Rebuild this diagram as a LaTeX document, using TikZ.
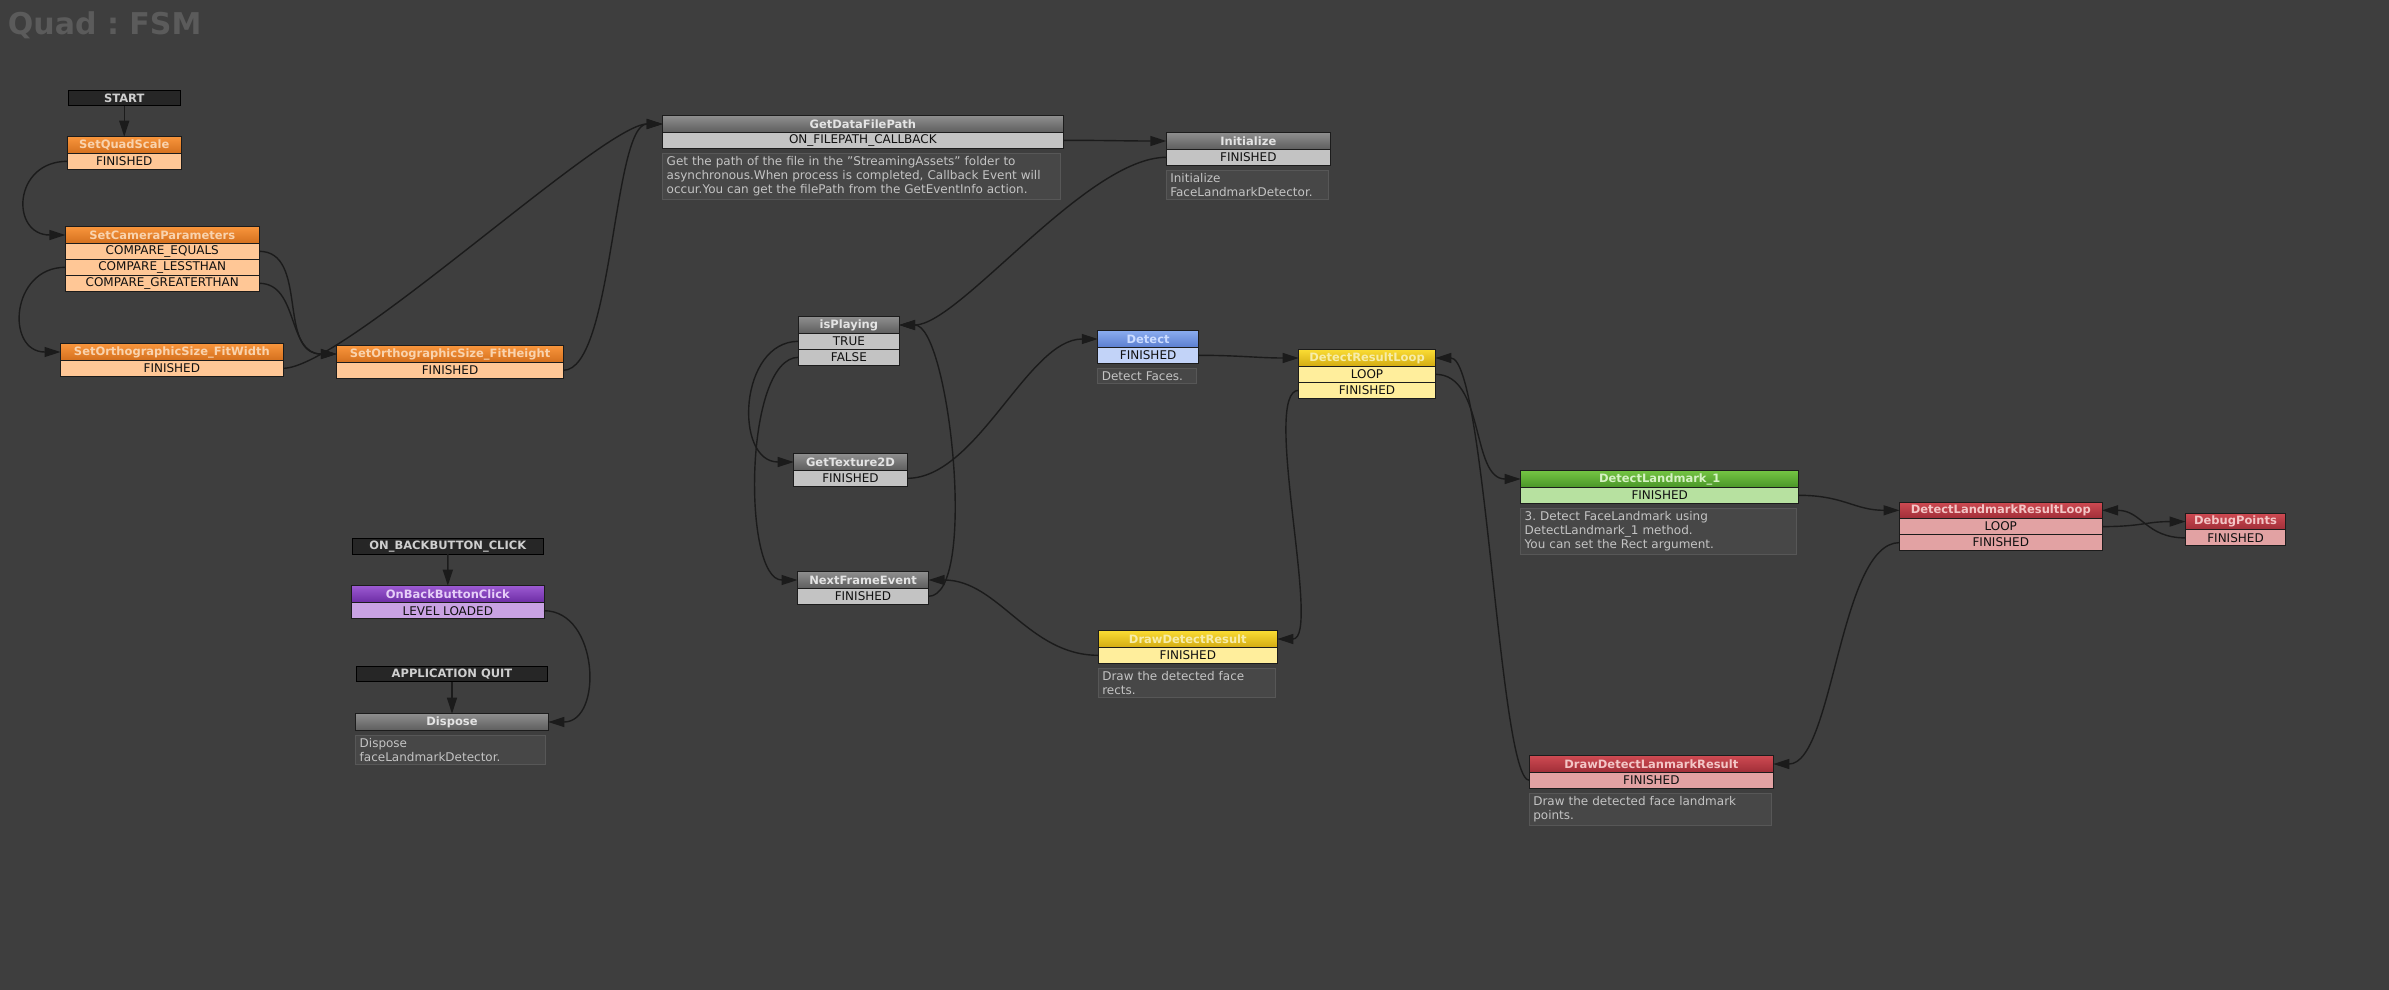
\documentclass[tikz,border=0pt]{standalone}
\usepackage{fontspec}
\setmainfont{DejaVu Sans}
\usetikzlibrary{positioning,arrows.meta}
\frenchspacing

\definecolor{canvas}{HTML}{3E3E3E}
\definecolor{titlegray}{HTML}{5B5B5B}
\definecolor{rim}{HTML}{1C1C1C}
\definecolor{wirecol}{HTML}{1B1B1B}
\definecolor{rowtext}{HTML}{111111}
\definecolor{evtfill}{HTML}{262626}
\definecolor{evttext}{HTML}{CFCFCF}
\definecolor{notefill}{HTML}{474747}
\definecolor{noteedge}{HTML}{575757}
\definecolor{notetext}{HTML}{C4C4C4}
\definecolor{orangetop}{HTML}{F8953C}\definecolor{orangebot}{HTML}{D4701E}
\definecolor{orangetxt}{HTML}{F9D3AE}\definecolor{orangerow}{HTML}{FFC796}
\definecolor{graytop}{HTML}{8E8E8E}\definecolor{graybot}{HTML}{5E5E5E}
\definecolor{graytxt}{HTML}{E4E4E4}\definecolor{grayrow}{HTML}{C3C3C3}
\definecolor{bluetop}{HTML}{8AACF0}\definecolor{bluebot}{HTML}{5B7ECF}
\definecolor{bluetxt}{HTML}{CCDCFF}\definecolor{bluerow}{HTML}{C2D3F8}
\definecolor{yellowtop}{HTML}{FADC34}\definecolor{yellowbot}{HTML}{D3AB12}
\definecolor{yellowtxt}{HTML}{F7EDAA}\definecolor{yellowrow}{HTML}{FFEE9C}
\definecolor{greentop}{HTML}{74C443}\definecolor{greenbot}{HTML}{4A9628}
\definecolor{greentxt}{HTML}{D6F2C4}\definecolor{greenrow}{HTML}{B7E1A0}
\definecolor{redtop}{HTML}{CE4A52}\definecolor{redbot}{HTML}{A02E38}
\definecolor{redtxt}{HTML}{F3C6C6}\definecolor{redrow}{HTML}{E2A2A3}
\definecolor{purpletop}{HTML}{9C5AD2}\definecolor{purplebot}{HTML}{6C2CA4}
\definecolor{purpletxt}{HTML}{E6CEF8}\definecolor{purplerow}{HTML}{C9A2E3}

\begin{document}
\begin{tikzpicture}[x=1pt, y=-1pt, >={Triangle[length=16pt,width=10pt]},
  title bar/.style={draw=rim, line width=1pt, anchor=north west, minimum height=16.6pt,
    top color=#1top, bottom color=#1bot, text=#1txt, font=\bfseries\fontsize{11.5}{13}\selectfont},
  event row/.style={draw=rim, line width=1pt, minimum height=16pt, fill=#1row, text=rowtext,
    font=\fontsize{12}{13}\selectfont},
  global event/.style={draw=black, line width=1pt, anchor=north west, minimum height=15.4pt,
    fill=evtfill, text=evttext, font=\bfseries\fontsize{11.5}{13}\selectfont},
  comment box/.style={draw=noteedge, line width=1pt, fill=notefill, text=notetext, align=left,
    inner xsep=4pt, inner ysep=3pt, font=\fontsize{12}{14.2}\selectfont},
  link/.style 2 args={to path={.. controls +(#1,0) and +(#2,0) .. (\tikztotarget)}}]
  \tikzstyle{every node}=[inner sep=0pt, outer sep=0pt]

  \useasboundingbox (0,0) rectangle (2389,989);
  \fill[canvas] (-5,-5) rectangle (2394,994);
  \node[anchor=north west, text=titlegray, font=\bfseries\fontsize{30}{32}\selectfont] (title) at (8,12) {Quad : FSM};

  % start chain
  \node[global event, minimum width=112.5pt] (start) at (68,90.3) {START};
  \node[title bar=orange, minimum width=113.5pt] (quad) at (67.5,136.7) {SetQuadScale};
  \node[event row=orange, minimum width=113.5pt, below=0pt of quad] (quad-fin) {FINISHED};

  \node[title bar=orange, minimum width=193.7pt] (cam) at (65.4,226.7) {SetCameraParameters};
  \node[event row=orange, minimum width=193.7pt, below=0pt of cam] (cam-eq) {COMPARE\_EQUALS};
  \node[event row=orange, minimum width=193.7pt, below=0pt of cam-eq] (cam-lt) {COMPARE\_LESSTHAN};
  \node[event row=orange, minimum width=193.7pt, below=0pt of cam-lt] (cam-gt) {COMPARE\_GREATERTHAN};

  \node[title bar=orange, minimum width=222.7pt] (fw) at (60.5,343.7) {SetOrthographicSize\_FitWidth};
  \node[event row=orange, minimum width=222.7pt, below=0pt of fw] (fw-fin) {FINISHED};
  \node[title bar=orange, minimum width=226.5pt] (fh) at (336.8,345.7) {SetOrthographicSize\_FitHeight};
  \node[event row=orange, minimum width=226.5pt, below=0pt of fh] (fh-fin) {FINISHED};

  \node[title bar=gray, minimum width=400.3pt] (gdfp) at (662.7,115.7) {GetDataFilePath};
  \node[event row=gray, minimum width=400.3pt, below=0pt of gdfp] (gdfp-cb) {ON\_FILEPATH\_CALLBACK};
  \node[comment box, text width=390pt, below=5pt of gdfp-cb.south west, anchor=north west] (gdfp-note)
    {Get the path of the file in the "StreamingAssets" folder to\\asynchronous.When process is completed, Callback Event will\\occur.You can get the filePath from the GetEventInfo action.};

  \node[title bar=gray, minimum width=164pt] (init) at (1166.3,132.7) {Initialize};
  \node[event row=gray, minimum width=164pt, below=0pt of init] (init-fin) {FINISHED};
  \node[comment box, text width=154pt, below=5pt of init-fin.south west, anchor=north west] (init-note)
    {Initialize\\FaceLandmarkDetector.};

  % frame loop
  \node[title bar=gray, minimum width=100.6pt] (isp) at (798.6,316.7) {isPlaying};
  \node[event row=gray, minimum width=100.6pt, below=0pt of isp] (isp-true) {TRUE};
  \node[event row=gray, minimum width=100.6pt, below=0pt of isp-true] (isp-false) {FALSE};
  \node[title bar=gray, minimum width=113.6pt] (gt) at (793.7,453.7) {GetTexture2D};
  \node[event row=gray, minimum width=113.6pt, below=0pt of gt] (gt-fin) {FINISHED};
  \node[title bar=gray, minimum width=131pt] (nfe) at (797.5,571.7) {NextFrameEvent};
  \node[event row=gray, minimum width=131pt, below=0pt of nfe] (nfe-fin) {FINISHED};

  \node[title bar=blue, minimum width=100.6pt] (det) at (1097.8,330.7) {Detect};
  \node[event row=blue, minimum width=100.6pt, below=0pt of det] (det-fin) {FINISHED};
  \node[comment box, text width=91pt, below=5pt of det-fin.south west, anchor=north west] (det-note) {Detect Faces.};

  \node[title bar=yellow, minimum width=136.6pt] (drl) at (1298.7,349.7) {DetectResultLoop};
  \node[event row=yellow, minimum width=136.6pt, below=0pt of drl] (drl-loop) {LOOP};
  \node[event row=yellow, minimum width=136.6pt, below=0pt of drl-loop] (drl-fin) {FINISHED};
  \node[title bar=yellow, minimum width=179pt] (ddr) at (1098.3,630.7) {DrawDetectResult};
  \node[event row=yellow, minimum width=179pt, below=0pt of ddr] (ddr-fin) {FINISHED};
  \node[comment box, text width=169pt, below=5pt of ddr-fin.south west, anchor=north west] (ddr-note)
    {Draw the detected face\\rects.};

  \node[title bar=green, minimum width=278pt] (dl1) at (1520.7,470.7) {DetectLandmark\_1};
  \node[event row=green, minimum width=278pt, below=0pt of dl1] (dl1-fin) {FINISHED};
  \node[comment box, text width=268pt, below=5pt of dl1-fin.south west, anchor=north west] (dl1-note)
    {3. Detect FaceLandmark using\\DetectLandmark\_1 method.\\You can set the Rect argument.};

  \node[title bar=red, minimum width=202.5pt] (dlrl) at (1899.5,502) {DetectLandmarkResultLoop};
  \node[event row=red, minimum width=202.5pt, below=0pt of dlrl] (dlrl-loop) {LOOP};
  \node[event row=red, minimum width=202.5pt, below=0pt of dlrl-loop] (dlrl-fin) {FINISHED};
  \node[title bar=red, minimum width=100pt] (dbg) at (2185.5,513.3) {DebugPoints};
  \node[event row=red, minimum width=100pt, below=0pt of dbg] (dbg-fin) {FINISHED};
  \node[title bar=red, minimum width=244pt] (ddlr) at (1529.3,755.7) {DrawDetectLanmarkResult};
  \node[event row=red, minimum width=244pt, below=0pt of ddlr] (ddlr-fin) {FINISHED};
  \node[comment box, text width=234pt, below=5pt of ddlr-fin.south west, anchor=north west] (ddlr-note)
    {Draw the detected face landmark\\points.};

  % back button and quit
  \node[global event, minimum width=191pt] (onback) at (352.3,538.7) {ON\_BACKBUTTON\_CLICK};
  \node[title bar=purple, minimum width=192.3pt, minimum height=17pt] (obbc) at (351.7,585.7) {OnBackButtonClick};
  \node[event row=purple, minimum width=192.3pt, below=0pt of obbc] (obbc-ll) {LEVEL LOADED};
  \node[global event, minimum width=191.4pt] (appquit) at (356.3,666.3) {APPLICATION QUIT};
  \node[title bar=gray, minimum width=192.6pt] (disp) at (355.7,713.7) {Dispose};
  \node[comment box, text width=182pt, below=5pt of disp.south west, anchor=north west] (disp-note)
    {Dispose\\faceLandmarkDetector.};

  \path[->, every edge/.append style={draw=wirecol, line width=1.4pt}]
    (start) edge (quad)
    (quad-fin.west) edge[link={-55}{-55}] (cam.west)
    (cam-eq.east) edge[link={50}{-60}] (fh.west)
    (cam-lt.west) edge[link={-55}{-55}] (fw.west)
    (cam-gt.east) edge[link={40}{-50}] (fh.west)
    (fw-fin.east) edge[link={60}{-60}] (gdfp.west)
    (fh-fin.east) edge[link={50}{-50}] (gdfp.west)
    (gdfp-cb.east) edge[link={40}{-40}] (init.west)
    (init-fin.west) edge[link={-80}{60}] (isp.east)
    (isp-true.west) edge[link={-60}{-60}] (gt.west)
    (isp-false.west) edge[link={-55}{-55}] (nfe.west)
    (gt-fin.east) edge[link={70}{-70}] (det.west)
    (nfe-fin.east) edge[link={50}{50}] (isp.east)
    (det-fin.east) edge[link={40}{-40}] (drl.west)
    (drl-loop.east) edge[link={50}{-50}] (dl1.west)
    (drl-fin.west) edge[link={-38}{45}] (ddr.east)
    (ddr-fin.west) edge[link={-70}{70}] (nfe.east)
    (ddlr-fin.west) edge[link={-30}{50}] (drl.east)
    (dl1-fin.east) edge[link={45}{-45}] (dlrl.west)
    (dlrl-loop.east) edge[link={40}{-40}] (dbg.west)
    (dbg-fin.west) edge[link={-40}{40}] (dlrl.east)
    (dlrl-fin.west) edge[link={-60}{60}] (ddlr.east)
    (onback) edge (obbc)
    (obbc-ll.east) edge[link={55}{55}] (disp.east)
    (appquit) edge (disp);
\end{tikzpicture}
\end{document}
